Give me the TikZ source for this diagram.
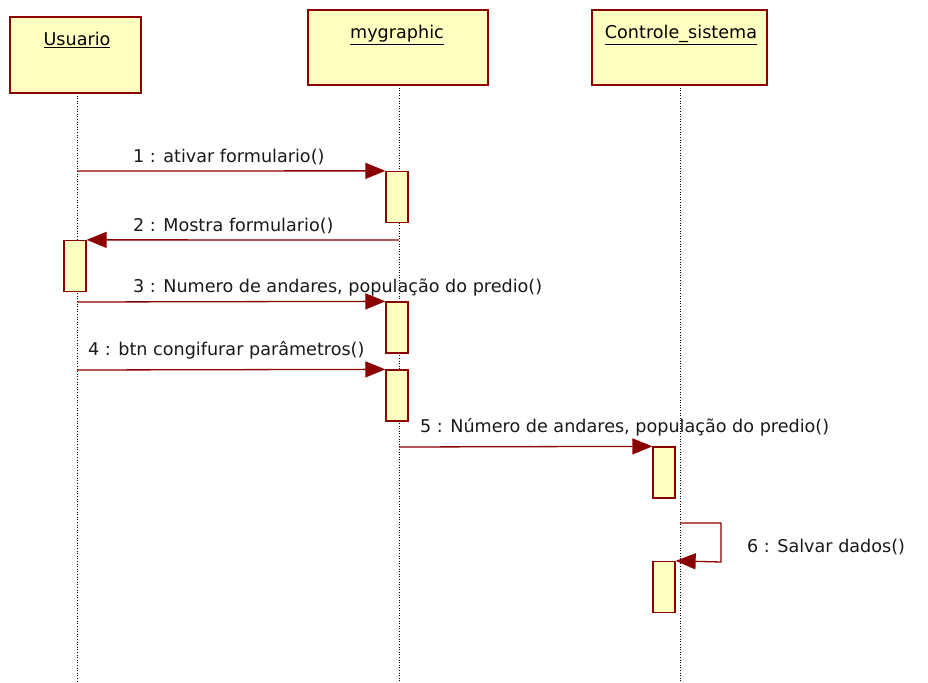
\documentclass[tikz,border=0pt]{standalone}
\usepackage{fontspec}
\setmainfont{DejaVu Sans}
\usetikzlibrary{arrows.meta}
\definecolor{umlred}{HTML}{8B0000}
\definecolor{umlfill}{HTML}{FFFFC0}
\begin{document}
\begin{tikzpicture}[x=1pt,y=-1pt,
  objbox/.style={draw=umlred, fill=umlfill, line width=1.6pt, inner sep=0pt},
  objname/.style={font=\fontsize{17.6}{20}\selectfont, inner sep=0pt, anchor=base},
  actbox/.style={draw=umlred, fill=umlfill, line width=1.3pt, inner sep=0pt, minimum width=22pt, minimum height=51pt},
  lifeline/.style={black, line width=0.9pt, dash pattern=on 1pt off 1.6pt},
  msg/.style={draw=umlred, line width=1.3pt, -{Triangle[length=20pt,width=16pt]}},
  msglabel/.style={font=\fontsize{17.6}{20}\selectfont, inner sep=0pt, anchor=base west, text=black!90}]
\useasboundingbox (0,0) rectangle (928,682);
% lifelines (drawn first)
\coordinate (uTop) at (77,93);
\coordinate (uEnd) at (77,682);
\coordinate (mTop) at (399,85);
\coordinate (mEnd) at (399,682);
\coordinate (cTop) at (680,85);
\coordinate (cEnd) at (680,682);
\draw[lifeline] (uTop) -- (uEnd);
\draw[lifeline] (mTop) -- (mEnd);
\draw[lifeline] (cTop) -- (cEnd);
% objects
\node[objbox, minimum width=131pt, minimum height=76pt] (usuario) at (75.5,55) {};
\node[objname] (usuarioLbl) at (77,46) {\underline{Usuario}};
\node[objbox, minimum width=180pt, minimum height=75pt] (mygraphic) at (398,47.5) {};
\node[objname] (mygraphicLbl) at (397,39) {\underline{mygraphic}};
\node[objbox, minimum width=175pt, minimum height=75pt] (controle) at (679.5,47.5) {};
\node[objname] (controleLbl) at (681,39) {\underline{Controle\_sistema}};
% activations
\node[actbox] (actM1) at (397,197) {};
\node[actbox] (actU1) at (75,266) {};
\node[actbox] (actM2) at (397,327.5) {};
\node[actbox] (actM3) at (397,395.5) {};
\node[actbox] (actC1) at (664,472.5) {};
\node[actbox] (actC2) at (664,587) {};
% message endpoints on lifelines
\coordinate (s1) at (77,171);
\coordinate (s2) at (399,240);
\coordinate (s3) at (77,302);
\coordinate (s4) at (77,370);
\coordinate (s5) at (399,447);
\coordinate (s6) at (680,523);
\coordinate (loopA) at (721,523);
\coordinate (loopB) at (721,562);
% messages
\draw[msg] (s1) -- (actM1.north west);
\draw[msg] (s2) -- (actU1.north east);
\draw[msg] (s3) -- (actM2.north west);
\draw[msg] (s4) -- (actM3.north west);
\draw[msg] (s5) -- (actC1.north west);
\draw[msg] (s6) -- (loopA) -- (loopB) -- (actC2.north east);
% labels
\node[msglabel] (l1) at (133,162) {1 : ativar formulario()};
\node[msglabel] (l2) at (133,231) {2 : Mostra formulario()};
\node[msglabel] (l3) at (133,292) {3 : Numero de andares, população do predio()};
\node[msglabel] (l4) at (88,355) {4 : btn congifurar parâmetros()};
\node[msglabel] (l5) at (420,432) {5 : Número de andares, população do predio()};
\node[msglabel] (l6) at (747,552) {6 : Salvar dados()};
\end{tikzpicture}
\end{document}
